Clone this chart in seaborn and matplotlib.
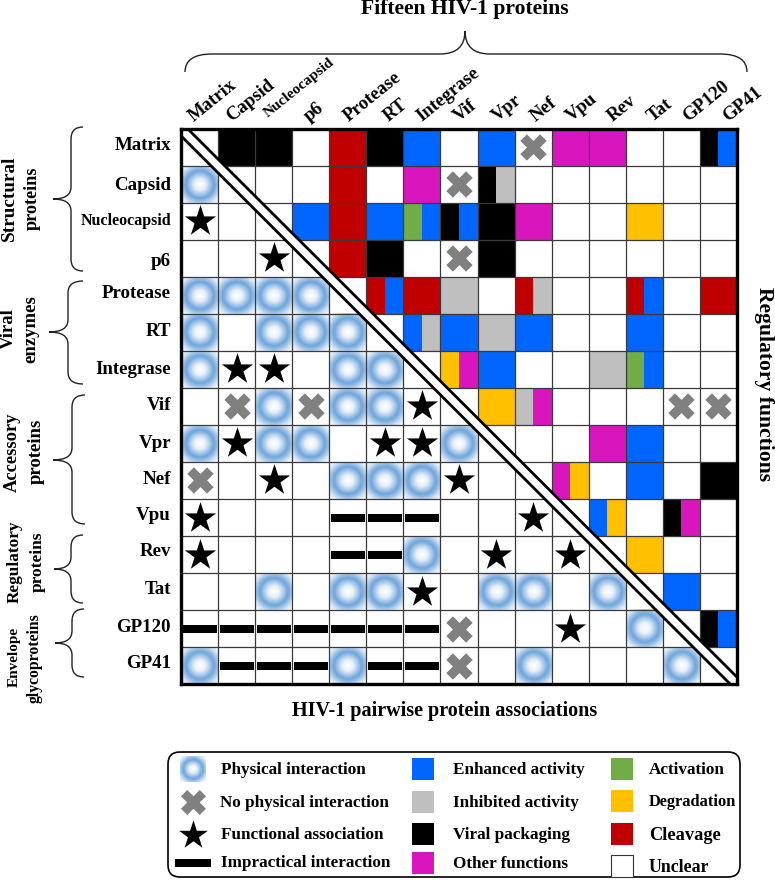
import numpy as np
import pandas as pd
import matplotlib
matplotlib.use("Agg")
import matplotlib.pyplot as plt
import seaborn as sns
from matplotlib.colors import ListedColormap, LinearSegmentedColormap
from matplotlib.patches import FancyBboxPatch, PathPatch, Rectangle
from matplotlib.path import Path

proteins = ["Matrix", "Capsid", "Nucleocapsid", "p6", "Protease", "RT", "Integrase", "Vif",
            "Vpr", "Nef", "Vpu", "Rev", "Tat", "GP120", "GP41"]

# One token per cell. Letters are function colours (two letters = split cell);
# o physical, x no physical, * functional, = impractical, . nothing
row_matrix = ". K K . R K B . B x M M . . KB"
row_capsid = "o . . . R . M x KG . . . . . ."
row_nucleocapsid = "* . . B R B NB KB K M . . Y . ."
row_p6 = ". . * . R K . x K . . . . . ."
row_protease = "o o o o . RB R G . RG . . RB . R"
row_rt = "o . o o o . BG B G B . . B . ."
row_integrase = "o * * . o o . YM B . . G NB . ."
row_vif = ". x o x o o * . Y GM . . . x x"
row_vpr = "o * o o . * * o . . . M B . ."
row_nef = "x . * . o o o * . . MY . B . K"
row_vpu = "* . . . = = = . . * . BY . KM ."
row_rev = "* . . . = = o . * . * . Y . ."
row_tat = ". . o . o o * . o o . o . B ."
row_gp120 = "= = = = = = = x . . * . o . KB"
row_gp41 = "o = = = o = = x . o . . . o ."
rows = [row_matrix, row_capsid, row_nucleocapsid, row_p6, row_protease, row_rt, row_integrase,
        row_vif, row_vpr, row_nef, row_vpu, row_rev, row_tat, row_gp120, row_gp41]

function_codes = ["W", "B", "G", "K", "M", "N", "Y", "R"]
function_colors = ["#FFFFFF", "#0066FF", "#BFBFBF", "#000000", "#D916BE", "#70AD47", "#FFC000", "#C00000"]

marker_names = ["Physical interaction", "No physical interaction", "Functional association", "Impractical interaction"]
function_names_mid = ["Enhanced activity", "Inhibited activity", "Viral packaging", "Other functions"]
function_names_right = ["Activation", "Degradation", "Cleavage", "Unclear"]

sns.set_theme(style="white")
plt.rcParams["font.family"] = ["Liberation Serif", "DejaVu Serif"]
plt.rcParams["font.weight"] = "bold"

W, H = 775, 880
fig = plt.figure(figsize=(W / 100, H / 100), dpi=100, facecolor="white")
L, R, T, B = 181, 737, 129, 684
ax = fig.add_axes([L / W, 1 - B / H, (R - L) / W, (B - T) / H])

# half-cell colour table for the heatmap
half = np.zeros((15, 30), dtype=int)
marks = []
for r, line in enumerate(rows):
    for c, tok in enumerate(line.split()):
        if tok in ("o", "x", "*", "="):
            marks.append((tok, 2 * c + 1, r + 0.5))
        elif tok != ".":
            half[r, 2 * c] = function_codes.index(tok[0])
            half[r, 2 * c + 1] = function_codes.index(tok[-1])
marks = pd.DataFrame(marks, columns=["kind", "x", "y"])

sns.heatmap(half, ax=ax, cmap=ListedColormap(function_colors), vmin=-0.5, vmax=7.5,
            cbar=False, xticklabels=False, yticklabels=False)

glow_cmap = LinearSegmentedColormap.from_list(
    "glow", [(0, "#FFFFFF"), (0.22, "#EAF1FA"), (0.56, "#6FA5DB"), (0.66, "#8DB8E3"),
             (0.85, "#D4E4F5"), (1, "#F4F8FC")])
yy, xx = np.mgrid[-1:1:64j, -1:1:64j]
glow_r = np.hypot(xx, yy) / 1.33


def draw_glow(a, x0, x1, y0, y1):
    a.imshow(glow_r, cmap=glow_cmap, vmin=0, vmax=1, extent=(x0, x1, y1, y0),
             aspect="auto", interpolation="bilinear", zorder=1.5)


for _, m in marks[marks.kind == "o"].iterrows():
    draw_glow(ax, m.x - 1, m.x + 1, m.y + 0.5, m.y - 0.5)
ax.set_xlim(0, 30)
ax.set_ylim(15, 0)

for i in range(1, 15):
    ax.plot([0, 30], [i, i], color="#3A3A3A", lw=0.9, zorder=2)
    ax.plot([2 * i, 2 * i], [0, 15], color="#3A3A3A", lw=0.9, zorder=2)

dash_path = Path([(-0.5, -0.11), (0.5, -0.11), (0.5, 0.11), (-0.5, 0.11), (-0.5, -0.11)], closed=True)
styles = {"x": ("X", "#808080", 360), "*": ("*", "black", 560), "=": (dash_path, "black", 610)}


def draw_marks(a, data, kind):
    mk, col, size = styles[kind]
    sns.scatterplot(data=data, x="x", y="y", ax=a, marker=mk, color=col, s=size,
                    linewidth=0, legend=False, zorder=3, clip_on=True)


for kind in ["x", "*", "="]:
    draw_marks(ax, marks[marks.kind == kind], kind)
ax.set_xlabel("")
ax.set_ylabel("")

ax.plot([0, 30], [0, 15], color="black", lw=9.0, zorder=4, solid_capstyle="butt")
ax.plot([0, 30], [0, 15], color="white", lw=5.0, zorder=5, solid_capstyle="butt")
for s in ax.spines.values():
    s.set_visible(True)
    s.set_color("black")
    s.set_linewidth(2.4)
    s.set_zorder(6)

# overlay in pixel coordinates for annotations
ov = fig.add_axes([0, 0, 1, 1], facecolor="none")
ov.set_xlim(0, W)
ov.set_ylim(H, 0)
ov.axis("off")


def txt(x, y, s, size=12, ha="center", va="center", rot=0, **kw):
    ov.text(x, y, s, fontsize=size, ha=ha, va=va, rotation=rot, fontweight="bold",
            color="black", rotation_mode="anchor", **kw)


row_y = [146, 185, 221, 261, 293, 332, 370, 406, 444, 479, 516, 552, 590, 628, 664]
for name, y in zip(proteins, row_y):
    txt(171, y, name, size=11.5 if name == "Nucleocapsid" else 13.6, ha="right")

top_x = [194, 232, 268, 309, 349, 389, 422, 459, 497, 536, 571, 613, 653, 688, 728]
top_y = [122, 122, 118, 122, 122, 122, 122, 122, 122, 122, 122, 122, 122, 122, 122]
for name, x, y in zip(proteins, top_x, top_y):
    txt(x, y, name, size=11 if name == "Nucleocapsid" else 13.5, ha="left", va="baseline", rot=39)

txt(465, 9, "Fifteen HIV-1 proteins", size=15.6)
txt(445, 711, "HIV-1 pairwise protein associations", size=14.5)
txt(764, 384, "Regulatory functions", size=15.6, rot=-90)

group_labels = [("Structural", 9, 198, 13.8), ("proteins", 32, 198, 13.1),
                ("Viral", 8, 329, 13.5), ("enzymes", 31, 329, 13.5),
                ("Accessory", 12, 452, 13.3), ("proteins", 36, 451, 13.5),
                ("Regulatory", 15, 562, 12.4), ("proteins", 38, 562, 12.5),
                ("Envelope", 14, 657, 11), ("glycoproteins", 35, 658, 11.3)]
for s, x, y, size in group_labels:
    txt(x, y, s, size=size, rot=90)


def vbrace(xt, xs, xe, top, tip, bot, r=12):
    v = [(xe, top), (xs, top), (xs, top + r), (xs, tip - r), (xs, tip), (xt, tip),
         (xs, tip), (xs, tip + r), (xs, bot - r), (xs, bot), (xe, bot)]
    c = [Path.MOVETO, Path.CURVE3, Path.CURVE3, Path.LINETO, Path.CURVE3, Path.CURVE3,
         Path.CURVE3, Path.CURVE3, Path.LINETO, Path.CURVE3, Path.CURVE3]
    ov.add_patch(PathPatch(Path(v, c), fc="none", ec="#222222", lw=1.0))


vbrace(53, 71, 83, 127, 199, 271)
vbrace(49, 68, 83, 281, 332, 384)
vbrace(53, 72, 85, 395, 460, 524)
vbrace(54, 71, 83, 535, 569, 603)
vbrace(55, 72, 84, 609, 643, 677)

hb_v = [(185, 72), (185, 54), (212, 54), (440, 54), (465, 54), (465, 31),
        (465, 54), (490, 54), (720, 54), (747, 54), (747, 72)]
hb_c = [Path.MOVETO, Path.CURVE3, Path.CURVE3, Path.LINETO, Path.CURVE3, Path.CURVE3,
        Path.CURVE3, Path.CURVE3, Path.LINETO, Path.CURVE3, Path.CURVE3]
ov.add_patch(PathPatch(Path(hb_v, hb_c), fc="none", ec="#222222", lw=1.0))

# legend
ov.add_patch(FancyBboxPatch((176, 760), 556, 109, boxstyle="round,pad=8,rounding_size=12",
                            fc="white", ec="black", lw=1.2, zorder=1))
draw_glow(ov, 180, 206, 756, 782)
ov.set_xlim(0, W)
ov.set_ylim(H, 0)
leg_marks = pd.DataFrame({"x": [193, 193, 193], "y": [802, 835, 863], "kind": ["x", "*", "="]})
for k in ["x", "*", "="]:
    mk, col, size = styles[k]
    scale = {"x": 0.9, "*": 0.85, "=": 1.05}[k]
    sns.scatterplot(data=leg_marks[leg_marks.kind == k], x="x", y="y", ax=ov, marker=mk, color=col,
                    s=size * scale, linewidth=0, legend=False, zorder=3)
ov.set_xlabel("")
ov.set_ylabel("")
ov.axis("off")

for name, y, x in zip(marker_names, [770, 803, 835, 863], [221, 220, 221, 221]):
    txt(x, y, name, size=12.3, ha="left")
mid_colors = ["B", "G", "K", "M"]
right_colors = ["N", "Y", "R", "W"]
mid_text_y = [769, 802, 834, 863]
right_text_y = [769, 801, 834, 866]
for name, code, y in zip(function_names_mid, mid_colors, mid_text_y):
    ov.add_patch(Rectangle((412, y - 11), 22, 22, fc=function_colors[function_codes.index(code)], ec="none", zorder=2))
    txt(453, y + 1, name, size=12.3, ha="left")
right_sizes = [12.3, 11.8, 13.2, 12.8]
for name, code, y, sz in zip(function_names_right, right_colors, right_text_y, right_sizes):
    ov.add_patch(Rectangle((611, y - 11), 22, 22, fc=function_colors[function_codes.index(code)],
                           ec="#333333" if code == "W" else "none", lw=0.8, zorder=2))
    txt(649, y + 1, name, size=sz, ha="left")

fig.savefig("out.png", dpi=100)
